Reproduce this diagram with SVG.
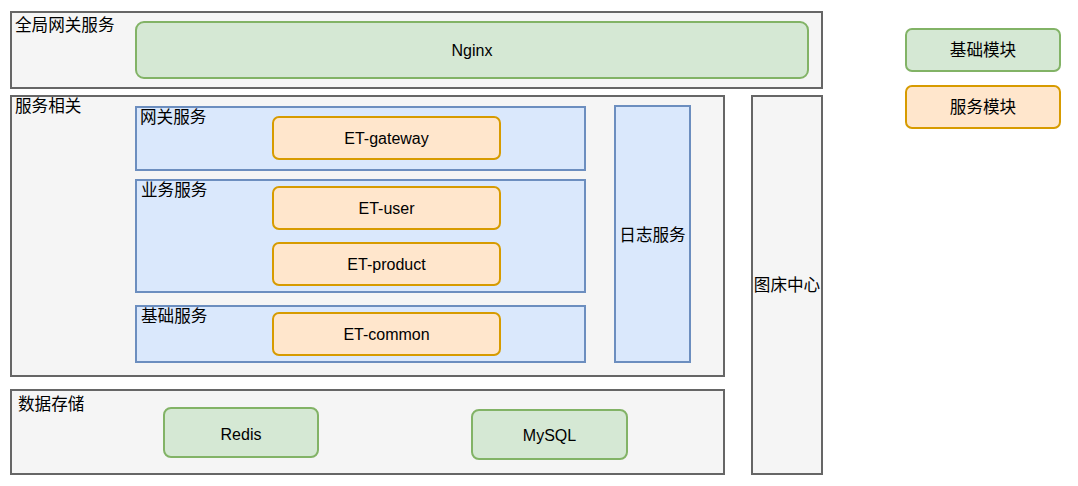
<svg xmlns="http://www.w3.org/2000/svg" width="1078" height="486" viewBox="0 0 1078 486">
<style>
text{font-family:"Helvetica","Liberation Sans","Noto Sans CJK SC",sans-serif;font-size:16px;fill:#000}
.cn{font-size:16.6px}
.c{text-anchor:middle;dominant-baseline:central}
.gray{fill:#f5f5f5;stroke:#666;stroke-width:2}
.blue{fill:#dae8fc;stroke:#6c8ebf;stroke-width:2}
.green{fill:#d5e8d4;stroke:#82b366;stroke-width:2}
.orange{fill:#ffe6cc;stroke:#d79b00;stroke-width:2}
</style>
<rect width="1078" height="486" fill="#fff"/>
<g id="global-gateway">
<rect class="gray" x="11" y="12" width="811" height="76"/>
<text class="cn" x="15" y="31">全局网关服务</text>
</g>
<g id="nginx">
<rect class="green" x="136" y="22" width="672" height="56" rx="8"/>
<text class="c" x="472" y="50">Nginx</text>
</g>
<g id="service-related">
<rect class="gray" x="11" y="96" width="713" height="280"/>
<text class="cn" x="15" y="112">服务相关</text>
</g>
<g id="gateway-service">
<rect class="blue" x="136" y="107" width="449" height="63"/>
<text class="cn" x="140" y="123">网关服务</text>
</g>
<g id="et-gateway">
<rect class="orange" x="273" y="117" width="227" height="42" rx="6"/>
<text class="c" x="386.5" y="138">ET-gateway</text>
</g>
<g id="business-service">
<rect class="blue" x="136" y="180" width="449" height="112"/>
<text class="cn" x="141" y="196">业务服务</text>
</g>
<g id="et-user">
<rect class="orange" x="273" y="187" width="227" height="42" rx="6"/>
<text class="c" x="386.5" y="208">ET-user</text>
</g>
<g id="et-product">
<rect class="orange" x="273" y="243" width="227" height="42" rx="6"/>
<text class="c" x="386.5" y="264">ET-product</text>
</g>
<g id="base-service">
<rect class="blue" x="136" y="306" width="449" height="56"/>
<text class="cn" x="141" y="322">基础服务</text>
</g>
<g id="et-common">
<rect class="orange" x="273" y="313" width="227" height="42" rx="6"/>
<text class="c" x="386.5" y="334">ET-common</text>
</g>
<g id="log-service">
<rect class="blue" x="615" y="106" width="75" height="256"/>
<text class="c cn" x="652.5" y="235">日志服务</text>
</g>
<g id="image-center">
<rect class="gray" x="752" y="96" width="70" height="378"/>
<text class="c cn" x="787" y="285">图床中心</text>
</g>
<g id="data-storage">
<rect class="gray" x="11" y="390" width="713" height="84"/>
<text class="cn" x="18" y="410">数据存储</text>
</g>
<g id="redis">
<rect class="green" x="164" y="408" width="154" height="49" rx="7"/>
<text class="c" x="241" y="434">Redis</text>
</g>
<g id="mysql">
<rect class="green" x="472" y="410" width="155" height="49" rx="7"/>
<text class="c" x="549.5" y="435">MySQL</text>
</g>
<g id="legend-base">
<rect class="green" x="906" y="29" width="154" height="42" rx="6"/>
<text class="c cn" x="983" y="50">基础模块</text>
</g>
<g id="legend-service">
<rect class="orange" x="906" y="86" width="154" height="42" rx="6"/>
<text class="c cn" x="983" y="107">服务模块</text>
</g>
<g id="connectors"></g>
</svg>
